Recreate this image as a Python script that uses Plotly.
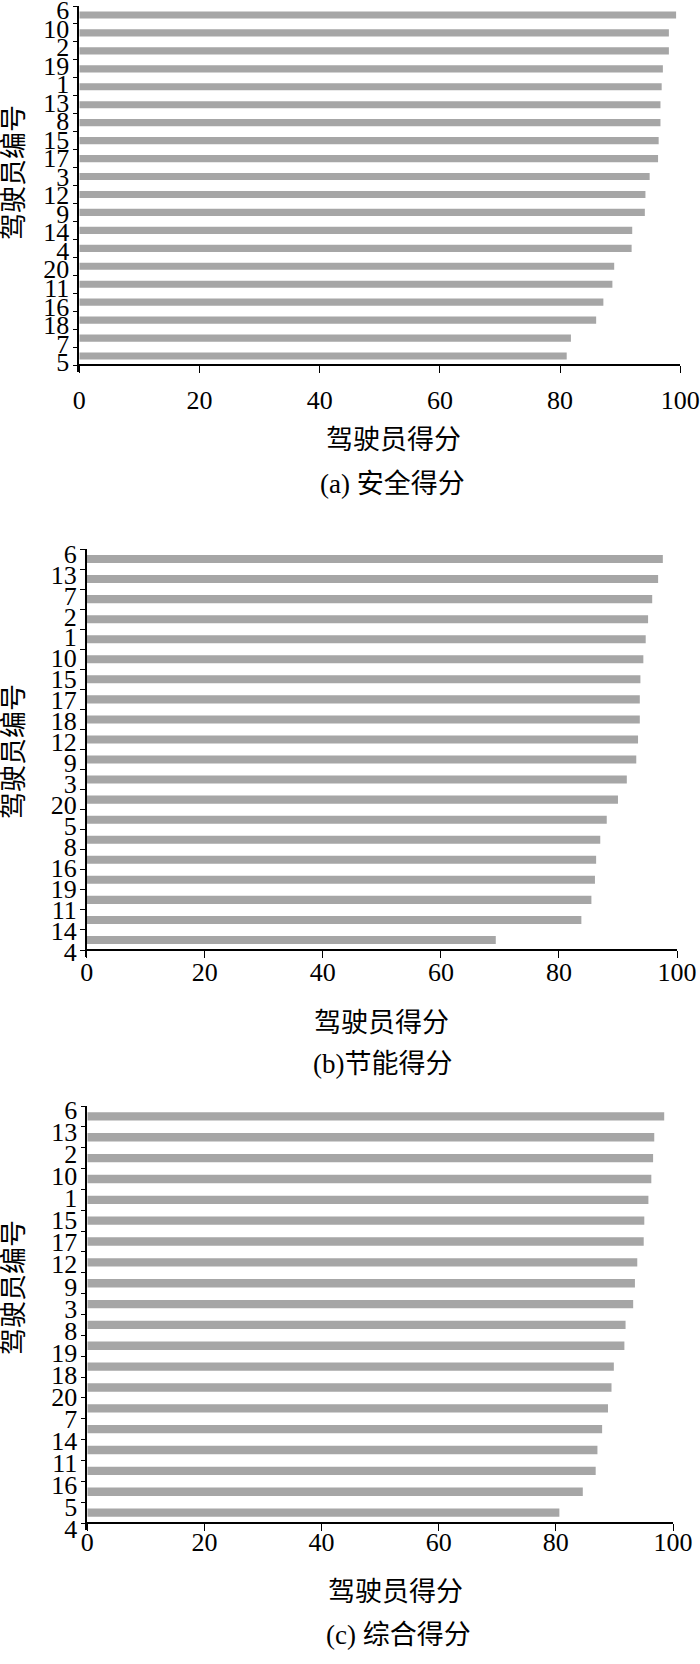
import plotly.graph_objects as go

# ---------------- data ----------------
ids_a = ["6", "10", "2", "19", "1", "13", "8", "15", "17", "3",
         "12", "9", "14", "4", "20", "11", "16", "18", "7", "5"]
vals_a = [99.3, 98.1, 98.1, 97.1, 96.9, 96.7, 96.7, 96.4, 96.3, 94.9,
          94.2, 94.1, 92.0, 91.9, 89.0, 88.7, 87.2, 86.0, 81.8, 81.1]

ids_b = ["6", "13", "7", "2", "1", "10", "15", "17", "18", "12",
         "9", "3", "20", "5", "8", "16", "19", "11", "14", "4"]
vals_b = [97.6, 96.8, 95.8, 95.1, 94.7, 94.3, 93.8, 93.7, 93.7, 93.4,
          93.1, 91.5, 90.0, 88.1, 87.0, 86.3, 86.1, 85.5, 83.8, 69.3]

ids_c = ["6", "13", "2", "10", "1", "15", "17", "12", "9", "3",
         "8", "19", "18", "20", "7", "14", "11", "16", "5", "4"]
vals_c = [98.5, 96.8, 96.6, 96.3, 95.8, 95.1, 95.0, 93.9, 93.5, 93.2,
          91.9, 91.7, 89.9, 89.5, 88.9, 87.9, 87.1, 86.8, 84.6, 80.6]

x_ticks = [0, 20, 40, 60, 80, 100]
x_title = "驾驶员得分"
y_title = "驾驶员编号"
captions = ["(a) 安全得分", "(b)节能得分", "(c) 综合得分"]

# ---------------- layout geometry (pixels) ----------------
W, H = 700, 1664
FONT = "Liberation Serif"
FONT_CJK = "Liberation Serif, Noto Sans CJK SC"
BAR_COLOR = "#a6a6a6"
FS = 26
FS_CJK = 27
EXT = 7  # extra px of y-range below the x-axis (hidden behind the 0 tick)

panels = [
    dict(ids=ids_a, vals=vals_a, x0=79.3, x1=680.3, y0=6, y1=365,
         l0=10, l19=362, tick_pad=5, title_x=393, title_y=440, cap_x=392, cap_y=484,
         ytitle_y=173),
    dict(ids=ids_b, vals=vals_b, x0=86.7, x1=677, y0=549, y1=950,
         l0=553.5, l19=952, tick_pad=-8, title_x=381, title_y=1023, cap_x=382, cap_y=1064,
         ytitle_y=752),
    dict(ids=ids_c, vals=vals_c, x0=87.3, x1=673, y0=1106, y1=1523,
         l0=1110, l19=1529, tick_pad=-11, title_x=395, title_y=1592, cap_x=398, cap_y=1635,
         ytitle_y=1288),
]


def fx(p):
    return p / W


def fy(p):
    return 1 - p / H


fig = go.Figure()
annotations = []
layout = {}

for i, p in enumerate(panels, start=1):
    n = len(p["ids"])
    pos = list(range(n))
    sfx = "" if i == 1 else str(i)
    fig.add_trace(go.Bar(
        x=p["vals"], y=pos, orientation="h", width=0.4,
        marker=dict(color=BAR_COLOR, line=dict(width=0)),
        xaxis="x" + sfx, yaxis="y" + sfx, showlegend=False,
        hovertext=p["ids"],
    ))
    slot = (p["y1"] - p["y0"]) / n
    to_data = lambda ypx: -0.5 + (ypx - p["y0"]) / slot
    lab_pos = [to_data(p["l0"] + k * (p["l19"] - p["l0"]) / (n - 1)) for k in range(n)]
    boundaries = [k - 0.5 for k in range(n + 1)]

    layout["xaxis" + sfx] = dict(
        domain=[fx(p["x0"]), fx(p["x1"])], anchor="free", position=fy(p["y1"]),
        range=[0, 100], tickmode="array", tickvals=x_ticks,
        ticks="outside", ticklen=7, tickwidth=1.3, tickcolor="black",
        ticklabelstandoff=p["tick_pad"], ticklabeloverflow="allow",
        showline=True, linecolor="black", linewidth=1.5,
        showgrid=False, zeroline=False, automargin=False,
        tickfont=dict(family=FONT, size=FS, color="black"),
    )
    layout["yaxis" + sfx] = dict(
        domain=[fy(p["y1"] + EXT), fy(p["y0"])], anchor="x" + sfx,
        range=[n - 0.5 + EXT / slot, -0.5], tickmode="array", tickvals=lab_pos,
        ticktext=p["ids"], ticks="", ticklabelstandoff=3,
        ticklabeloverflow="allow",
        minor=dict(tickmode="array", tickvals=boundaries, ticks="outside",
                   ticklen=5, tickwidth=1.3, tickcolor="black", showgrid=False),
        showline=True, linecolor="black", linewidth=1.5,
        showgrid=False, zeroline=False, automargin=False,
        tickfont=dict(family=FONT, size=FS, color="black"),
    )
    annotations.append(dict(
        text=x_title, x=fx(p["title_x"]), y=fy(p["title_y"]),
        xref="paper", yref="paper", showarrow=False,
        xanchor="center", yanchor="middle",
        font=dict(family=FONT_CJK, size=FS_CJK, color="black"),
    ))
    annotations.append(dict(
        text=captions[i - 1], x=fx(p["cap_x"]), y=fy(p["cap_y"]),
        xref="paper", yref="paper", showarrow=False,
        xanchor="center", yanchor="middle",
        font=dict(family=FONT_CJK, size=FS_CJK, color="black"),
    ))
    annotations.append(dict(
        text=y_title, x=fx(14), y=fy(p["ytitle_y"]),
        xref="paper", yref="paper", showarrow=False, textangle=-90,
        xanchor="center", yanchor="middle",
        font=dict(family=FONT_CJK, size=FS_CJK, color="black"),
    ))

fig.update_layout(
    template="none",
    width=W, height=H,
    margin=dict(l=0, r=0, t=0, b=0),
    paper_bgcolor="white", plot_bgcolor="white",
    annotations=annotations,
    bargap=0.6,
    **layout,
)

fig.write_html(
    "out.html",
    config={"displayModeBar": False},
    post_script="document.body.style.margin='0';document.body.style.padding='0';",
)
